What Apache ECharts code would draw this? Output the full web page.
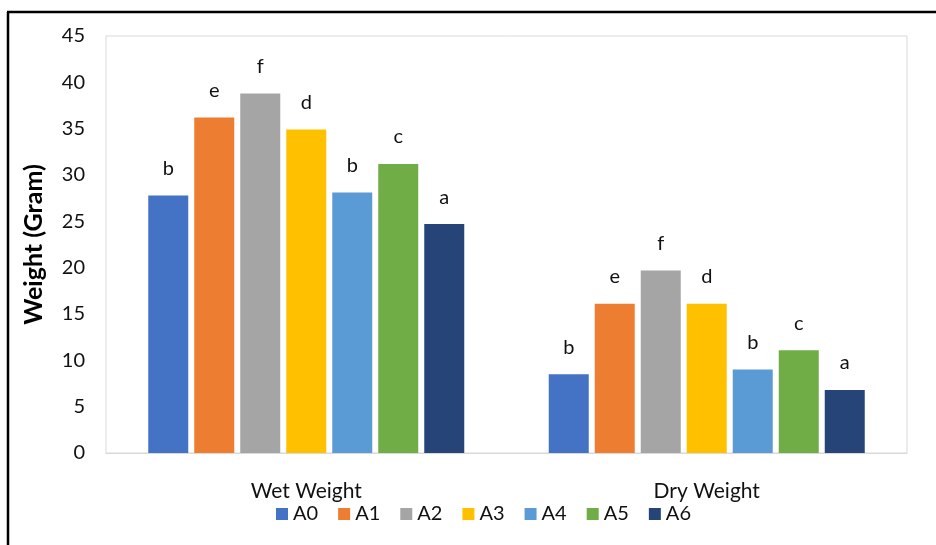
<!DOCTYPE html>
<html>
<head>
<meta charset="utf-8">
<script src="https://cdn.jsdelivr.net/npm/echarts@6/dist/echarts.min.js"></script>
<style>
html,body{margin:0;padding:0;background:#fff;}
#main{width:936px;height:545px;}
</style>
</head>
<body>
<div id="main"></div>
<script>
var categories = ['Wet Weight', 'Dry Weight'];
var seriesNames = ['A0', 'A1', 'A2', 'A3', 'A4', 'A5', 'A6'];
var A0 = [27.8, 8.5];
var A1 = [36.2, 16.1];
var A2 = [38.8, 19.7];
var A3 = [34.9, 16.1];
var A4 = [28.1, 9.0];
var A5 = [31.2, 11.1];
var A6 = [24.7, 6.8];
var letters = {
  A0: ['b', 'b'], A1: ['e', 'e'], A2: ['f', 'f'], A3: ['d', 'd'],
  A4: ['b', 'b'], A5: ['c', 'c'], A6: ['a', 'a']
};
var values = [A0, A1, A2, A3, A4, A5, A6];
var colors = ['#4472C4', '#ED7D31', '#A5A5A5', '#FFC000', '#5B9BD5', '#70AD47', '#264478'];
var yTicks = [0, 5, 10, 15, 20, 25, 30, 35, 40, 45];

var FONT = 'Lato, "Open Sans", sans-serif';
var TXT = '#111';
var chart = echarts.init(document.getElementById('main'));
var series = seriesNames.map(function (n, i) {
  return {
    name: n,
    type: 'bar',
    data: values[i],
    barWidth: 40,
    barGap: '15%',
    itemStyle: { color: colors[i] },
    label: {
      show: true,
      position: 'top',
      distance: 17,
      fontFamily: FONT,
      fontSize: 20,
      color: TXT,
      formatter: function (p) { return letters[n][p.dataIndex]; }
    }
  };
});
chart.setOption({
  backgroundColor: '#fff',
  animation: false,
  color: colors,
  grid: {
    left: 106, right: 29, top: 36, bottom: 92,
    show: true, borderColor: '#d9d9d9', borderWidth: 1
  },
  legend: {
    data: seriesNames,
    top: 499,
    left: 271,
    itemWidth: 12,
    itemHeight: 12,
    itemGap: 20,
    icon: 'rect',
    textStyle: { fontFamily: FONT, fontSize: 20, color: TXT }
  },
  xAxis: {
    type: 'category',
    data: categories,
    axisLine: { show: true, lineStyle: { color: '#d9d9d9' } },
    axisTick: { show: false },
    axisLabel: { fontFamily: FONT, fontSize: 21, color: TXT, margin: 28 }
  },
  yAxis: {
    type: 'value',
    min: 0, max: 45, interval: 5,
    name: 'Weight (Gram)',
    nameLocation: 'middle',
    nameGap: 60,
    nameTextStyle: { fontFamily: FONT, fontSize: 25, fontWeight: 'bold', color: '#000' },
    axisLine: { show: false },
    axisTick: { show: false },
    splitLine: { show: false },
    axisLabel: {
      fontFamily: FONT, fontSize: 20, color: TXT, margin: 21,
      formatter: function (v) { return yTicks.indexOf(v) >= 0 ? String(v) : ''; }
    }
  },
  graphic: [
    { type: 'line', shape: { x1: 7, y1: 12, x2: 936, y2: 12 }, style: { stroke: '#000', lineWidth: 2.5 } },
    { type: 'line', shape: { x1: 8, y1: 12, x2: 8, y2: 545 }, style: { stroke: '#000', lineWidth: 2.5 } }
  ],
  series: series
});
</script>
</body>
</html>
